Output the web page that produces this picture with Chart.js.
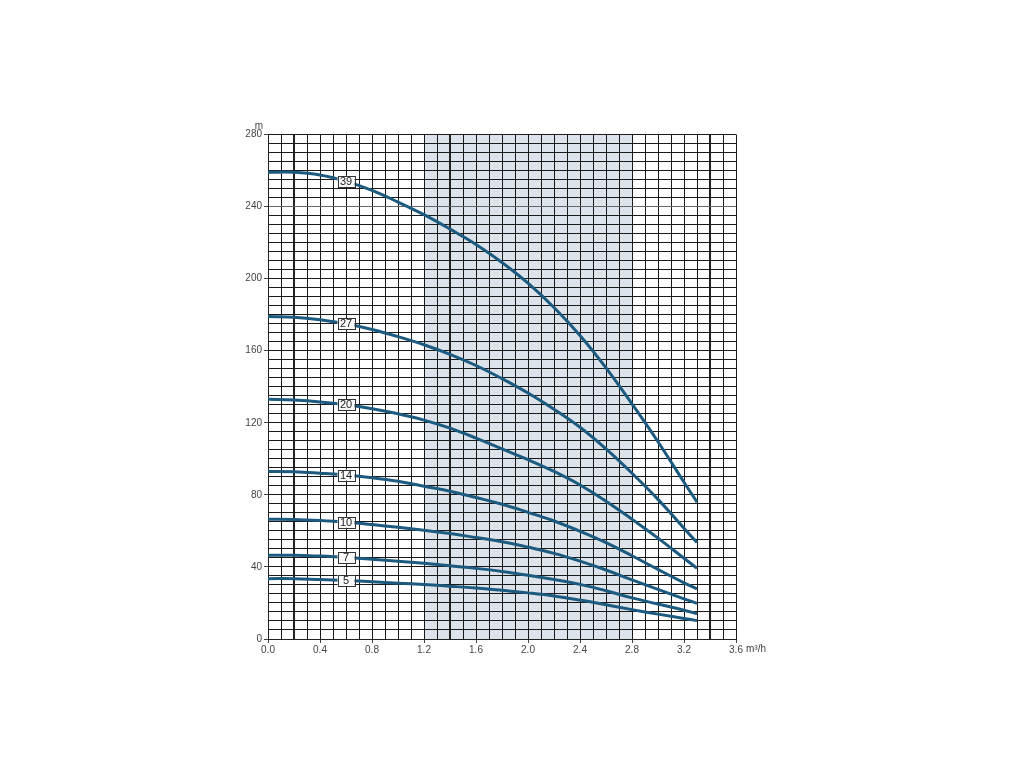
<!DOCTYPE html>
<html>
<head>
<meta charset="utf-8">
<script src="https://cdn.jsdelivr.net/npm/chart.js@4/dist/chart.umd.min.js"></script>
<style>
html,body{margin:0;padding:0;background:#fff;}
#wrap{position:relative;width:1024px;height:768px;}
</style>
</head>
<body>
<div id="wrap"><canvas id="c" width="1024" height="768"></canvas></div>
<script>
// Flow rate (m³/h)
const flowPoints = [0, 0.2, 0.4, 0.6, 0.8, 1.0, 1.2, 1.4, 1.6, 1.8, 2.0, 2.2, 2.4, 2.6, 2.8, 3.0, 3.2, 3.3];
// Head (m) per stage count
const stageLabels = ['39', '27', '20', '14', '10', '7', '5'];
const head39 = [259, 259, 257.5, 254, 249, 242.5, 235.5, 227.5, 219, 209, 197.5, 184, 168.5, 150.5, 130.5, 109.5, 87, 76];
const head27 = [179, 178.6, 177.2, 175, 171.8, 167.8, 163.3, 158, 151.8, 144.5, 136.5, 127.5, 117.5, 105.5, 92, 77.5, 61.5, 53.5];
const head20 = [133, 132.6, 131.6, 130, 127.8, 125, 121.5, 117, 111.5, 105.5, 99.5, 93, 85.5, 76.5, 66.5, 56, 44.8, 39.3];
const head14 = [93, 92.8, 92, 91, 89.5, 87.5, 84.8, 82, 78.5, 74.8, 70.3, 65.5, 59.8, 53.5, 46.2, 38.6, 31.2, 27.8];
const head10 = [66.5, 66.3, 65.7, 64.8, 63.5, 62, 60.3, 58.5, 56.3, 54, 51, 47.5, 43.2, 38.3, 32.8, 27.5, 22.3, 19.8];
const head7  = [46.5, 46.5, 46, 45.3, 44.3, 43.2, 42, 40.6, 39.2, 37.5, 35.4, 33, 30.3, 26.8, 22.8, 19.4, 16, 14];
const head5  = [33.5, 33.5, 33, 32.5, 31.8, 31, 30.2, 29.3, 28.3, 27, 25.6, 23.9, 21.6, 19, 16.3, 13.8, 11.4, 10.2];
const labelFlow = 0.6;
// Recommended operating band (m³/h)
const bandRange = [1.2, 2.8];
// Axis ticks
const xTickLabels = [0.0, 0.4, 0.8, 1.2, 1.6, 2.0, 2.4, 2.8, 3.2, 3.6];
const yTickLabels = [0, 40, 80, 120, 160, 200, 240, 280];
const yUnit = 'm';
const xUnit = 'm³/h';

const allHeads = [head39, head27, head20, head14, head10, head7, head5];
const lineColor = '#1c5a80';

const datasets = allHeads.map((h, i) => ({
  label: stageLabels[i],
  data: flowPoints.map((x, j) => ({x: x, y: h[j]})),
  borderColor: lineColor,
  borderWidth: 3,
  pointRadius: 0,
  fill: false,
  tension: 0.4
}));

const near = (v, arr) => arr.some(a => Math.abs(a - v) < 1e-6);
const thickX = [0.2, 1.4, 3.4];

const bandPlugin = {
  id: 'band',
  beforeDraw(chart) {
    const {ctx, chartArea, scales} = chart;
    const x1 = scales.x.getPixelForValue(bandRange[0]);
    const x2 = scales.x.getPixelForValue(bandRange[1]);
    ctx.save();
    ctx.fillStyle = '#dce3ea';
    ctx.fillRect(x1, chartArea.top, x2 - x1, chartArea.bottom - chartArea.top);
    ctx.restore();
  }
};

function interpHead(h, x) {
  for (let j = 0; j < flowPoints.length - 1; j++) {
    if (x >= flowPoints[j] && x <= flowPoints[j + 1]) {
      const t = (x - flowPoints[j]) / (flowPoints[j + 1] - flowPoints[j]);
      return h[j] + t * (h[j + 1] - h[j]);
    }
  }
  return h[h.length - 1];
}

const labelPlugin = {
  id: 'curveLabels',
  afterDatasetsDraw(chart) {
    const {ctx, scales} = chart;
    ctx.save();
    ctx.font = '11px "Liberation Sans Narrow", "Liberation Sans", Arial, sans-serif';
    ctx.textAlign = 'center';
    ctx.textBaseline = 'middle';
    allHeads.forEach((h, i) => {
      const px = scales.x.getPixelForValue(labelFlow);
      const py = scales.y.getPixelForValue(interpHead(h, labelFlow));
      const w = 17, hh = 11;
      ctx.fillStyle = '#fafafa';
      ctx.fillRect(px - w / 2, py - hh / 2, w, hh);
      ctx.strokeStyle = '#333';
      ctx.lineWidth = 1;
      ctx.strokeRect(Math.round(px - w / 2) + 0.5, Math.round(py - hh / 2) + 0.5, w, hh);
      ctx.fillStyle = '#222';
      ctx.fillText(stageLabels[i], px, py + 0.5);
    });
    // unit labels
    ctx.font = '10px "Liberation Sans Narrow", "Liberation Sans", Arial, sans-serif';
    ctx.fillStyle = '#444';
    ctx.textAlign = 'center';
    ctx.fillText(yUnit, scales.x.left - 9, scales.y.top - 8);
    ctx.textAlign = 'left';
    ctx.fillText(xUnit, scales.x.right + 10, scales.y.bottom + 10);
    ctx.restore();
  }
};

new Chart(document.getElementById('c'), {
  type: 'line',
  data: {datasets},
  options: {
    responsive: false,
    animation: false,
    layout: {padding: {left: 0, top: 134.5, right: 288, bottom: 0}},
    plugins: {legend: {display: false}, tooltip: {enabled: false}},
    scales: {
      x: {
        type: 'linear',
        min: 0, max: 3.6,
        afterFit(s) { s.height = 129; },
        afterBuildTicks(s) {
          const t = [];
          for (let i = 0; i <= 36; i++) t.push({value: i / 10});
          s.ticks = t;
        },
        border: {display: true, color: '#222', width: 1},
        grid: {
          color: ctx => near(ctx.tick.value, thickX) ? '#222' : '#1a1a1a',
          lineWidth: ctx => near(ctx.tick.value, thickX) ? 2 : 1,
          tickLength: 4,
          tickColor: ctx => near(ctx.tick.value, xTickLabels) ? '#444' : 'rgba(0,0,0,0)'
        },
        ticks: {
          autoSkip: false,
          maxRotation: 0,
          padding: 1,
          color: '#444',
          font: {family: '"Liberation Sans Narrow", "Liberation Sans", Arial, sans-serif', size: 10},
          callback: v => near(v, xTickLabels) ? v.toFixed(1) : ''
        }
      },
      y: {
        min: 0, max: 280,
        afterFit(s) { s.width = 268; },
        afterBuildTicks(s) {
          const t = [];
          for (let i = 0; i <= 280; i += 5) t.push({value: i});
          s.ticks = t;
        },
        border: {display: true, color: '#222', width: 1},
        grid: {
          color: ctx => ctx.tick.value === 240 ? '#666' : '#1a1a1a',
          lineWidth: 1,
          tickLength: 4,
          tickColor: ctx => near(ctx.tick.value, yTickLabels) ? '#444' : 'rgba(0,0,0,0)'
        },
        ticks: {
          autoSkip: false,
          padding: 2,
          color: '#444',
          font: {family: '"Liberation Sans Narrow", "Liberation Sans", Arial, sans-serif', size: 10},
          callback: v => near(v, yTickLabels) ? String(v) : ''
        }
      }
    }
  },
  plugins: [bandPlugin, labelPlugin]
});
</script>
</body>
</html>
